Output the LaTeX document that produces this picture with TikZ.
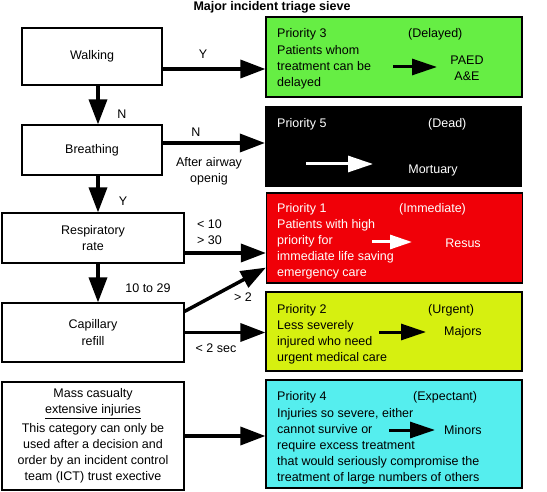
\documentclass[tikz,border=0pt]{standalone}
\usepackage{fontspec}
\setmainfont{Liberation Sans}
\usetikzlibrary{arrows.meta,calc}
\definecolor{pgreen}{RGB}{102,238,68}
\definecolor{pred}{RGB}{240,0,8}
\definecolor{pyellow}{RGB}{214,240,16}
\definecolor{pcyan}{RGB}{85,238,238}
\begin{document}
\begin{tikzpicture}[x=1pt,y=-1pt,
  every node/.style={font=\fontsize{12.5}{16}\selectfont, inner sep=0pt},
  flowbox/.style={draw=black, line width=1.2pt, fill=white, align=center},
  prbox/.style={draw=black, line width=1.2pt, minimum width=256pt},
  bigarrow/.style={line width=3.5pt, -{Triangle[length=25pt,width=18pt]}},
  smallarrow/.style={line width=3pt, -{Triangle[length=25pt,width=16pt]}},
  txt/.style={anchor=base west},
  para/.style={anchor=north west, align=left},
]
\useasboundingbox (0,0) rectangle (547,492);

% title
\node[font=\bfseries\fontsize{12.5}{15}\selectfont] (title) at (272,7) {Major incident triage sieve};

% left flow boxes
\node[flowbox, minimum width=140pt, minimum height=57pt] (walk) at (92,56.5) {Walking};
\node[flowbox, minimum width=140pt, minimum height=50pt] (breath) at (92,150) {Breathing};
\node[flowbox, minimum width=182pt, minimum height=50pt] (resp) at (93,238) {Respiratory\\rate};
\node[flowbox, minimum width=182pt, minimum height=59pt] (cap) at (93,332.5) {Capillary\\[1pt]refill};
\node[flowbox, minimum width=182pt, minimum height=108pt] (mass) at (93,436)
  {Mass casualty\\\underline{extensive injuries}\\[3pt]This category can only be\\used after a decision and\\order by an incident control\\team (ICT) trust exective};

% priority boxes
\node[prbox, fill=pgreen, minimum height=80pt] (p3) at (394,57) {};
\node[prbox, fill=black, minimum height=79pt] (p5) at (393.5,146.5) {};
\node[prbox, fill=pred, minimum height=90pt] (p1) at (394.5,238) {};
\node[prbox, fill=pyellow, minimum height=79pt] (p2) at (394,331.5) {};
\node[prbox, fill=pcyan, minimum height=108pt] (p4) at (394,434) {};

% Priority 3
\node[txt] (p3t) at (277,37.5) {Priority 3};
\node[txt] (p3c) at (408,37.5) {(Delayed)};
\node[para] (p3d) at (277,45.3) {Patients whom\\treatment can be\\delayed};
\node[align=center] (p3dest) at (467,68.5) {PAED\\A\&E};
\coordinate (p3a) at (393,67);
\coordinate (p3b) at (437,67);
\draw[smallarrow] (p3a) -- (p3b);

% Priority 5
\node[txt, text=white] (p5t) at (277,127.5) {Priority 5};
\node[txt, text=white] (p5c) at (428,127.5) {(Dead)};
\node[text=white] (p5dest) at (433,170) {Mortuary};
\coordinate (p5a) at (306,164);
\coordinate (p5b) at (373,164);
\draw[smallarrow, draw=white, fill=white] (p5a) -- (p5b);

% Priority 1
\node[txt, text=white] (p1t) at (277,212.5) {Priority 1};
\node[txt, text=white] (p1c) at (399,212.5) {(Immediate)};
\node[para, text=white] (p1d) at (277,219.3) {Patients with high\\priority for\\immediate life saving\\emergency care};
\node[text=white] (p1dest) at (463,243) {Resus};
\coordinate (p1a) at (372,242);
\coordinate (p1b) at (412,242);
\draw[line width=3pt, draw=white, -{Triangle[length=22pt,width=14pt]}] (p1a) -- (p1b);

% Priority 2
\node[txt] (p2t) at (277,313.5) {Priority 2};
\node[txt] (p2c) at (428,313.5) {(Urgent)};
\node[para] (p2d) at (277,320.3) {Less severely\\injured who need\\urgent medical care};
\node (p2dest) at (463,332) {Majors};
\coordinate (p2a) at (379,332);
\coordinate (p2b) at (426,332);
\draw[smallarrow] (p2a) -- (p2b);

% Priority 4
\node[txt] (p4t) at (277,400.5) {Priority 4};
\node[txt] (p4c) at (413,400.5) {(Expectant)};
\node[para] (p4d) at (277,408.5) {Injuries so severe, either\\cannot survive or\\require excess treatment\\that would seriously compromise the\\treatment of large numbers of others};
\node (p4dest) at (463,430) {Minors};
\coordinate (p4a) at (389,430);
\coordinate (p4b) at (435,430);
\draw[smallarrow] (p4a) -- (p4b);

% main horizontal arrows
\draw[bigarrow] ([yshift=-12.5pt]walk.east) -- ([yshift=-12pt]p3.west);
\draw[bigarrow] ([yshift=7pt]breath.east) -- ([yshift=3.5pt]p5.west);
\draw[bigarrow] ([yshift=-15pt]resp.east) -- ([yshift=-15pt]p1.west);
\draw[bigarrow] ([yshift=-9pt]cap.north east) -- ([yshift=16pt]p1.south west);
\draw[bigarrow] (cap.east) -- (cap.east -| p2.west);
\draw[bigarrow] (mass.east) -- (mass.east -| p4.west);

% vertical arrows
\coordinate (wd) at ([xshift=6pt]walk.south);
\coordinate (bd) at ([xshift=6pt]breath.south);
\coordinate (rd) at ([xshift=5pt]resp.south);
\draw[bigarrow] (wd) -- (wd |- breath.north);
\draw[bigarrow] (bd) -- (bd |- resp.north);
\draw[bigarrow] (rd) -- (rd |- cap.north);

% labels
\node (lY1) at (203,54) {Y};
\node (lN1) at (122,114) {N};
\node (lN2) at (196,132) {N};
\node[align=center] (lafter) at (209,171.5) {After airway\\openig};
\node (lY2) at (123,201) {Y};
\node[anchor=west, align=left] (l1030) at (197,232) {< 10\\> 30};
\node (l1029) at (148,288) {10 to 29};
\node (lgt2) at (243,297) {> 2};
\node (l2sec) at (216,348) {< 2 sec};
\end{tikzpicture}
\end{document}
